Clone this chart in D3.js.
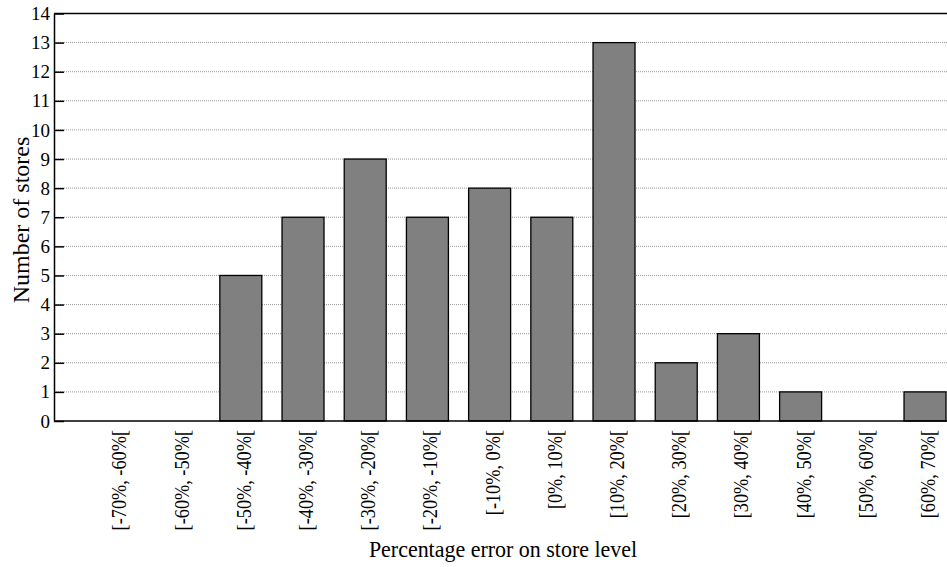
<!DOCTYPE html>
<html>
<head>
<meta charset="utf-8">
<script src="https://cdn.jsdelivr.net/npm/d3@7"></script>
<style>
  html, body { margin: 0; padding: 0; background: #fff; }
  svg { display: block; }
  text { font-family: "Liberation Serif", "Times New Roman", serif; fill: #000; }
</style>
</head>
<body>
<svg id="chart" width="947" height="567"></svg>
<script>
// Error bins and store counts per bin
const categories = ["[-70%, -60%[", "[-60%, -50%[", "[-50%, -40%[", "[-40%, -30%[",
  "[-30%, -20%[", "[-20%, -10%[", "[-10%, 0%[", "[0%, 10%[", "[10%, 20%[",
  "[20%, 30%[", "[30%, 40%[", "[40%, 50%[", "[50%, 60%[", "[60%, 70%["];
const storeCounts = [0, 0, 5, 7, 9, 7, 8, 7, 13, 2, 3, 1, 0, 1];
const yTicks = [0, 1, 2, 3, 4, 5, 6, 7, 8, 9, 10, 11, 12, 13, 14];

const xTitle = "Percentage error on store level";
const yTitle = "Number of stores";

const svg = d3.select("#chart");
const plotLeft = 54, plotTop = 13.5, plotBottom = 421;
const step = 62.2, padIn = 0.325, padOut = 0.666;
const plotRight = plotLeft + step * (categories.length - padIn + 2 * padOut);

const x = d3.scaleBand().domain(categories).range([plotLeft, plotRight])
  .paddingInner(padIn).paddingOuter(padOut);
const y = d3.scaleLinear().domain([0, 14]).range([plotBottom, plotTop]);

// dotted horizontal gridlines
svg.append("g").selectAll("line").data(yTicks.filter(t => t > 0 && t < 14)).join("line")
  .attr("x1", plotLeft).attr("x2", plotRight)
  .attr("y1", d => y(d)).attr("y2", d => y(d))
  .attr("stroke", "#999").attr("stroke-width", 1)
  .attr("stroke-dasharray", "1,1");

// bars
svg.append("g").selectAll("rect").data(storeCounts).join("rect")
  .attr("x", (d, i) => x(categories[i]))
  .attr("y", d => y(d))
  .attr("width", x.bandwidth())
  .attr("height", d => y(0) - y(d))
  .attr("fill", "#808080")
  .attr("stroke", "#000")
  .attr("stroke-width", 1.3);

// frame: top border and baseline
svg.append("line").attr("x1", plotLeft).attr("x2", plotRight).attr("y1", plotTop).attr("y2", plotTop)
  .attr("stroke", "#000").attr("stroke-width", 1.5);
svg.append("line").attr("x1", plotLeft).attr("x2", plotRight).attr("y1", plotBottom).attr("y2", plotBottom)
  .attr("stroke", "#000").attr("stroke-width", 1.5);

// left axis with inward ticks
const yAxis = d3.axisLeft(y).tickValues(yTicks).tickFormat(d3.format("d"))
  .tickSizeInner(-10).tickSizeOuter(0).tickPadding(4);
const gy = svg.append("g").attr("transform", `translate(${plotLeft},0)`).call(yAxis);
gy.attr("font-family", null);
gy.select(".domain").attr("stroke", "#000").attr("stroke-width", 1.5);
gy.selectAll(".tick line").attr("stroke", "#000").attr("stroke-width", 1.5);
gy.selectAll(".tick text").style("font-family", "'Liberation Serif', serif").style("font-size", "19px")
  .attr("fill", "#000");

// bottom category labels, rotated and slightly condensed
const xAxis = d3.axisBottom(x).tickSize(0).tickPadding(0);
const gx = svg.append("g").attr("transform", `translate(0,${plotBottom})`).call(xAxis);
gx.attr("font-family", null);
gx.select(".domain").remove();
gx.selectAll(".tick text")
  .style("font-family", "'Liberation Serif', serif").style("font-size", "21px").attr("fill", "#000")
  .attr("text-anchor", "end")
  .attr("x", 0).attr("y", 0).attr("dy", "0.35em")
  .attr("transform", "translate(2.7,9) rotate(-90) scale(0.87,1)");

// axis titles
svg.append("text").attr("transform", "translate(503,557) scale(0.915,1)")
  .attr("text-anchor", "middle").style("font-size", "24px").text(xTitle);
svg.append("text").attr("transform", "translate(29,220) rotate(-90)")
  .attr("text-anchor", "middle").style("font-size", "24px").text(yTitle);
</script>
</body>
</html>
